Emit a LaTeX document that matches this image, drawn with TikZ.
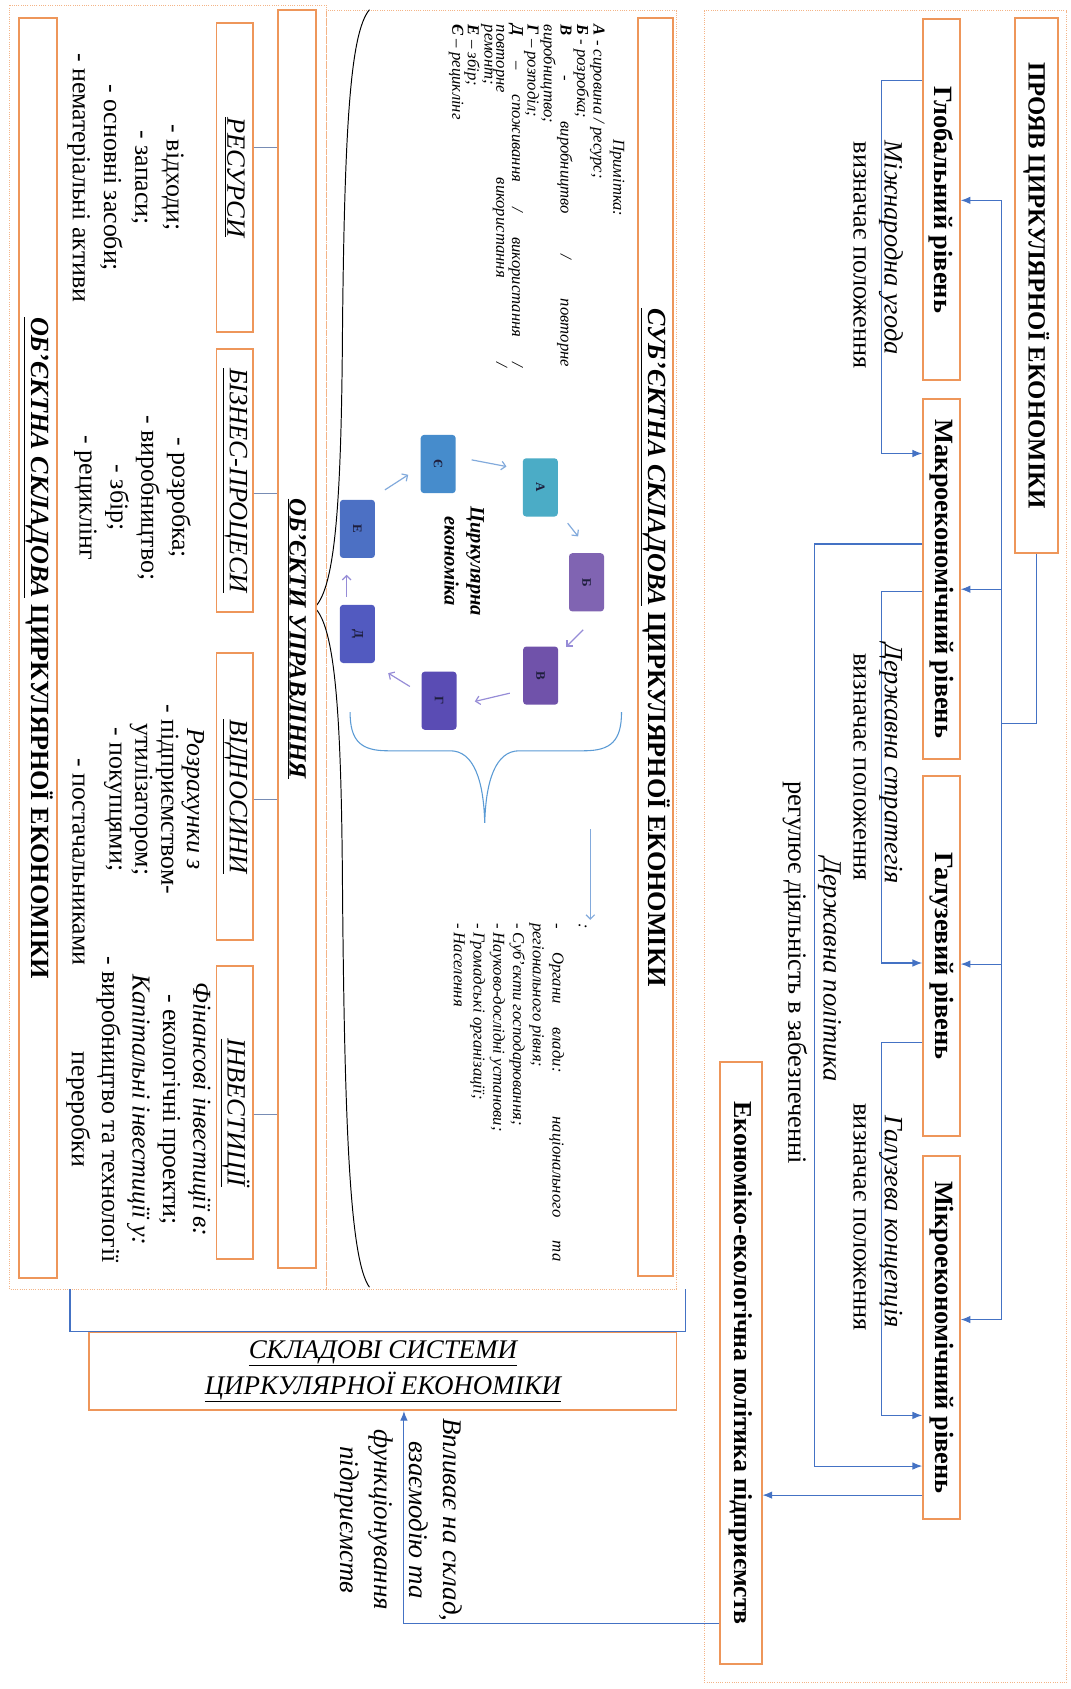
\documentclass[tikz,border=0pt]{standalone}
\usepackage{fontspec}
\setmainfont{Liberation Serif}
\usetikzlibrary{arrows.meta,calc}
\definecolor{boxor}{RGB}{238,150,90}
\definecolor{dotor}{RGB}{244,180,135}
\definecolor{connblue}{RGB}{68,114,196}
\definecolor{olinec}{RGB}{120,140,180}
\definecolor{lbrace}{RGB}{91,155,213}
\definecolor{cA}{RGB}{75,172,198}
\definecolor{cB}{RGB}{128,100,178}
\definecolor{cV}{RGB}{112,82,170}
\definecolor{cG}{RGB}{90,76,180}
\definecolor{cD}{RGB}{82,90,192}
\definecolor{cE}{RGB}{76,112,196}
\definecolor{cYe}{RGB}{70,140,204}
\definecolor{arrblue}{RGB}{130,170,220}
\definecolor{arrlav}{RGB}{150,140,215}
\definecolor{lettc}{RGB}{30,30,60}
\tikzset{
  obox/.style={draw=boxor, line width=1.8pt, fill=white, inner sep=0pt, rectangle},
  dotbox/.style={draw=dotor, line width=0.9pt, dash pattern=on 0.9pt off 1.2pt},
  conn/.style={draw=connblue, line width=1pt},
  arr/.style={conn, -{Latex[length=9pt,width=7pt]}},
  oline/.style={draw=olinec, line width=0.9pt},
  vtxt/.style={rotate=-90, inner sep=0pt, align=center},
  lbox/.style={rectangle, rounded corners=3pt, minimum width=32.5pt, minimum height=54pt, inner sep=0pt, text=lettc, font=\bfseries\fontsize{12}{14}\selectfont},
  carrow/.style={draw=#1, line width=1.1pt, -{Straight Barb[length=4pt,width=8pt]}},
  lbr/.style={draw=lbrace, line width=1pt},
}
\newcommand{\lvl}{\bfseries\fontsize{24.5}{28}\selectfont}
\begin{document}
\begin{tikzpicture}[x=1pt,y=-1pt]
\useasboundingbox (0,0) rectangle (994,1568);
\fill[white] (0,0) rectangle (994,1568);

% dotted groups
\draw[dotbox] (9,5) rectangle (303,1197);
\draw[dotbox] (303,10) rectangle (628,1197);
\draw[dotbox] (654,10) rectangle (990,1562);

% ===== right section =====
\node[obox, minimum width=40pt, minimum height=496pt] (title) at (962,265)
  {\rotatebox{-90}{\bfseries\fontsize{23}{26}\selectfont ПРОЯВ ЦИРКУЛЯРНОЇ ЕКОНОМІКИ}};
\node[obox, minimum width=34pt, minimum height=335pt] (glob) at (874,185.5)
  {\rotatebox{-90}{\lvl Глобальний рівень}};
\node[obox, minimum width=34pt, minimum height=335pt] (macro) at (874,537.5)
  {\rotatebox{-90}{\lvl Макроекономічний рівень}};
\node[obox, minimum width=34pt, minimum height=335pt] (galuz) at (874,887.5)
  {\rotatebox{-90}{\lvl Галузевий рівень}};
\node[obox, minimum width=34pt, minimum height=337pt] (micro) at (874,1241.5)
  {\rotatebox{-90}{\lvl Мікроекономічний рівень}};
\node[obox, minimum width=39pt, minimum height=559pt] (eco) at (687.5,1265.5)
  {\rotatebox{-90}{\bfseries\fontsize{24}{28}\selectfont Економіко-екологічна політика підприємств}};

\coordinate (busTop) at (930,186);
\coordinate (busM) at (930,547);
\coordinate (busG) at (930,895);
\coordinate (busBot) at (930,1225);
\coordinate (busJ) at (930,672);
\coordinate (Lx) at (818,0);
\coordinate (Lx2) at (756,0);

\draw[conn] (title.south) |- (busJ);
\draw[conn] (busTop) -- (busBot);
\draw[arr] (busTop) -- (busTop -| glob.east);
\draw[arr] (busM) -- (busM -| macro.east);
\draw[arr] (busG) -- (busG -| galuz.east);
\draw[arr] (busBot) -- (busBot -| micro.east);

\draw[arr] (glob.west |- 0,75) -| (Lx |- 0,200) |- (macro.west |- 0,421);
\draw[arr] (macro.west |- 0,549) -| (Lx |- 0,700) |- (galuz.west |- 0,894);
\draw[arr] (galuz.west |- 0,968) -| (Lx |- 0,1100) |- (micro.west |- 0,1314);
\draw[arr] (macro.west |- 0,505) -| (Lx2 |- 0,900) |- (micro.west |- 0,1361);
\draw[arr] (micro.west |- 0,1388) -- (eco.east |- 0,1388);

\node[vtxt, font=\itshape\fontsize{24.5}{28}\selectfont] (l1) at (827,230) {Міжнародна угода};
\node[vtxt, font=\fontsize{24.5}{28}\selectfont] (l1b) at (798,237) {визначає положення};
\node[vtxt, font=\itshape\fontsize{24.5}{28}\selectfont] (l2) at (827,709) {Державна стратегія};
\node[vtxt, font=\fontsize{24.5}{28}\selectfont] (l2b) at (798,712) {визначає положення};
\node[vtxt, font=\itshape\fontsize{24.5}{28}\selectfont] (l3) at (827,1134) {Галузева концепція};
\node[vtxt, font=\fontsize{24.5}{28}\selectfont] (l3b) at (798,1130) {визначає положення};
\node[vtxt, font=\itshape\fontsize{24.5}{28}\selectfont] (l4) at (770,900) {Державна політика};
\node[vtxt, font=\fontsize{24.5}{28}\selectfont] (l4b) at (738,903) {регулює діяльність в забезпеченні};

% ===== bottom: components box =====
\node[obox, minimum width=545pt, minimum height=72pt, align=center,
      font=\itshape\fontsize{25}{33}\selectfont] (sklad) at (355.5,1273)
  {\underline{СКЛАДОВІ СИСТЕМИ}\\\underline{ЦИРКУЛЯРНОЇ ЕКОНОМІКИ}};
\coordinate (brL) at (65,1197);
\coordinate (brR) at (636,1197);
\draw[conn] (brL) |- (sklad.north -| brR) -- (brR);
\draw[arr] (eco.west |- 0,1507) -| (sklad.south -| 375,0);
\node[vtxt, font=\itshape\fontsize{25}{32}\selectfont] (infl) at (370,1411)
  {Впливає на склад,\\взаємодію та\\функціонування\\підприємств};

% ===== middle section =====
\node[obox, minimum width=33pt, minimum height=1168pt] (sub) at (608.5,601)
  {\rotatebox{-90}{\bfseries\fontsize{24.3}{27}\selectfont\underline{\itshape СУБ’ЄКТНА СКЛАДОВА} ЦИРКУЛЯРНОЇ ЕКОНОМІКИ}};
\node[vtxt, font=\itshape\fontsize{15.5}{18}\selectfont] (prim) at (573,165) {Примітка:};
\node[rotate=-90, text width=318pt, align=justify, inner sep=0pt,
      font=\itshape\fontsize{15.5}{11}\selectfont] (note) at (489,182)
  {\lineskiplimit=-30pt\relax
   \textbf{А} - сировина / ресурс;\\
   \textbf{Б} - розробка;\\
   \textbf{В} - виробництво / повторне\linebreak виробництво;\\
   \textbf{Г} – розподіл;\\
   \textbf{Д} – споживання / використання /\linebreak повторне використання /\linebreak ремонт;\\
   \textbf{Е} – збір;\\
   \textbf{Є} – рециклінг};

% circle
\node[lbox, fill=cA]  (A)  at (501.6,452.5) {\rotatebox{-90}{А}};
\node[lbox, fill=cB]  (B)  at (544.5,540.6) {\rotatebox{-90}{Б}};
\node[lbox, fill=cV]  (V)  at (501.9,627.2) {\rotatebox{-90}{В}};
\node[lbox, fill=cG]  (G)  at (407.6,650.5) {\rotatebox{-90}{Г}};
\node[lbox, fill=cD]  (D)  at (331.8,588.5) {\rotatebox{-90}{Д}};
\node[lbox, fill=cE]  (E)  at (331.8,491)   {\rotatebox{-90}{Е}};
\node[lbox, fill=cYe] (Ye) at (406.8,430.8) {\rotatebox{-90}{Є}};
\node[vtxt, font=\bfseries\itshape\fontsize{19}{24}\selectfont] (circ) at (431,521) {Циркулярна\\економіка};
\draw[carrow=arrblue] ($(A)+(25.4,33.2)$) -- ($(A)+(35.1,45.5)$);
\draw[carrow=arrlav]  ($(B)+(-3.1,44.1)$) -- ($(B)+(-18.6,59.6)$);
\draw[carrow=arrlav]  ($(V)+(-28.6,16.3)$) -- ($(V)+(-61.1,24)$);
\draw[carrow=arrlav]  ($(G)+(-27.1,-13.2)$) -- ($(G)+(-47.2,-25.6)$);
\draw[carrow=arrlav]  ($(D)+(-10,-34.7)$) -- ($(D)+(-10,-54.9)$);
\draw[carrow=arrblue] ($(E)+(25.5,-36.2)$) -- ($(E)+(47.2,-50.2)$);
\draw[carrow=arrblue] ($(Ye)+(31,-3.9)$) -- ($(Ye)+(63.4,2.3)$);

\draw[lbr] (325,661) .. controls (325,688) and (335,697) .. (360,697) -- (418,697)
  .. controls (440,697) and (449,725) .. (450,764)
  .. controls (451,725) and (460,697) .. (482,697) -- (542,697)
  .. controls (567,697) and (577,688) .. (577,661);
\coordinate (la1) at (548,770);
\coordinate (la2) at (548,854);
\draw[carrow=arrblue] (la1) -- (la2);
\node[vtxt, font=\itshape\fontsize{15.5}{18}\selectfont] (colon) at (541,860) {:};
\node[rotate=-90, text width=314pt, align=justify, inner sep=0pt,
      font=\itshape\fontsize{15.5}{18.3}\selectfont] (orglist) at (472.5,1014)
  {- Органи влади: національного та\linebreak регіонального рівня;\\
   - Суб’єкти господарювання;\\
   - Науково-дослідні установи;\\
   - Громадські організації;\\
   - Населення};

% big brace
\draw[line width=0.9pt] (343,9) .. controls (325,30) and (320,120) .. (318,300)
  .. controls (317,460) and (312,545) .. (292,564)
  .. controls (312,583) and (317,670) .. (318,830)
  .. controls (320,1050) and (325,1170) .. (343,1195);

% ===== left section =====
\node[obox, minimum width=35pt, minimum height=1168pt] (obu) at (275.5,593)
  {\rotatebox{-90}{\bfseries\itshape\fontsize{23}{27}\selectfont\underline{ОБ’ЄКТИ УПРАВЛІННЯ}}};
\node[obox, minimum width=34pt, minimum height=287pt] (res) at (218,164.5)
  {\rotatebox{-90}{\itshape\fontsize{24.5}{28}\selectfont\underline{РЕСУРСИ}}};
\node[obox, minimum width=34pt, minimum height=244pt] (biz) at (218,446)
  {\rotatebox{-90}{\itshape\fontsize{24.5}{28}\selectfont\underline{БІЗНЕС-ПРОЦЕСИ}}};
\node[obox, minimum width=34pt, minimum height=267pt] (vid) at (218,739.5)
  {\rotatebox{-90}{\itshape\fontsize{24.5}{28}\selectfont\underline{ВІДНОСИНИ}}};
\node[obox, minimum width=34pt, minimum height=272pt] (inv) at (218,1033)
  {\rotatebox{-90}{\itshape\fontsize{24.5}{28}\selectfont\underline{ІНВЕСТИЦІЇ}}};
\draw[oline] (res.east |- 0,137) -- (obu.west |- 0,137);
\draw[oline] (biz.east |- 0,458) -- (obu.west |- 0,458);
\draw[oline] (vid.east |- 0,742) -- (obu.west |- 0,742);
\draw[oline] (inv.east |- 0,1035) -- (obu.west |- 0,1035);

\node[vtxt, font=\fontsize{24}{29}\selectfont] (reslist) at (116.5,165)
  {- відходи;\\- запаси;\\- основні засоби;\\- нематеріальні активи};
\node[vtxt, font=\fontsize{24}{28.7}\selectfont] (bizlist) at (123,462)
  {- розробка;\\- виробництво;\\- збір;\\- рециклінг};
\node[vtxt, font=\fontsize{24}{24}\selectfont] (vidlist) at (143,742)
  {\textit{Розрахунки з}\\- підприємством-\\утилізатором;\\- покупцями;};
\node[vtxt, font=\fontsize{24}{28}\selectfont] (vidlist2) at (73,800) {- постачальниками};
\node[vtxt, font=\fontsize{24}{28.25}\selectfont] (invlist) at (128.5,1030)
  {\textit{Фінансові інвестиції в:}\\- екологічні проекти;\\\textit{Капітальні інвестиції у:}\\- виробництво та технології\\переробки};

\node[obox, minimum width=35pt, minimum height=1169pt] (obj) at (35.5,601.5)
  {\rotatebox{-90}{\bfseries\fontsize{24.3}{27}\selectfont\underline{\itshape ОБ’ЄКТНА СКЛАДОВА} ЦИРКУЛЯРНОЇ ЕКОНОМІКИ}};
\end{tikzpicture}
\end{document}
